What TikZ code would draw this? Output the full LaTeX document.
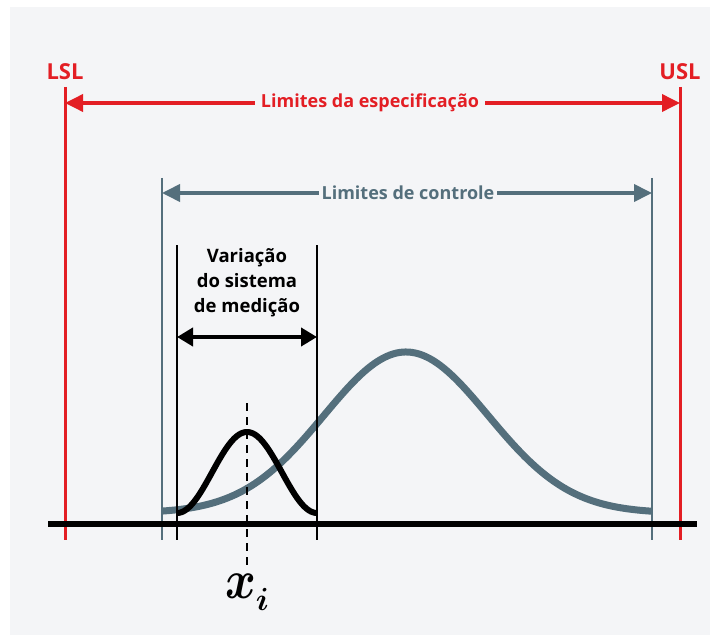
\documentclass[tikz,border=0pt]{standalone}
\usepackage{fontspec}
\setmainfont{Open Sans}
\usetikzlibrary{arrows.meta}
\font\xbig=cmmib10 at 55pt
\font\xsmall=cmmib10 at 32pt
\definecolor{panel}{HTML}{F4F5F7}
\definecolor{specred}{HTML}{E31E24}
\definecolor{slate}{HTML}{546F7C}
\tikzset{
  lbl/.style={font=\bfseries\fontsize{18}{22}\selectfont, inner sep=2pt},
  biglbl/.style={font=\bfseries\fontsize{22}{26}\selectfont, inner sep=2pt},
  redline/.style={draw=specred, line width=3pt},
  slateline/.style={draw=slate, line width=2.8pt},
  blackline/.style={draw=black, line width=2.4pt},
  redarrow/.style={draw=specred, line width=3.6pt, -{Triangle[length=18pt,width=17pt]}},
  slatearrow/.style={draw=slate, line width=3.8pt, -{Triangle[length=18pt,width=17pt]}},
  blackarrow/.style={draw=black, line width=4.2pt, {Triangle[length=16pt,width=18pt]}-{Triangle[length=16pt,width=18pt]}},
}
\begin{document}
\begin{tikzpicture}[x=1pt,y=-1pt]
\useasboundingbox (0,0) rectangle (711,636);
\fill[white] (0,0) rectangle (711,636);
\fill[panel] (10,7) rectangle (710,635);
% baseline
\coordinate (bl) at (48,524);
\coordinate (br) at (697,524);
% spec limits
\coordinate (lslT) at (65,87); \coordinate (lslB) at (65,540);
\coordinate (uslT) at (680,87); \coordinate (uslB) at (680,540);
\draw[redline] (lslT) -- (lslB);
\draw[redline] (uslT) -- (uslB);
\node[biglbl, text=specred] (lsl) at (65,72) {LSL};
\node[biglbl, text=specred] (usl) at (680,72) {USL};
\coordinate (ra) at (65,103); \coordinate (rb) at (680,103);
\coordinate (rm) at (370,103);
\draw[redarrow] (rm) -- (ra);
\draw[redarrow] (rm) -- (rb);
\node[lbl, text=specred, fill=panel, inner xsep=6pt] (spec) at (rm) {Limites da especificação};
% control limits
\coordinate (lclT) at (162,178); \coordinate (lclB) at (162,540);
\coordinate (uclT) at (652,178); \coordinate (uclB) at (652,540);
\draw[slateline] (lclT) -- (lclB);
\draw[slateline] (uclT) -- (uclB);
\coordinate (ga) at (162,193); \coordinate (gb) at (652,193);
\coordinate (gm) at (408,193);
\draw[slatearrow] (gm) -- (ga);
\draw[slatearrow] (gm) -- (gb);
\node[lbl, text=slate, fill=panel, inner xsep=3pt] (ctrl) at (gm) {Limites de controle};
% process curve
\draw[slate, line width=7pt] plot[domain=162:652, samples=160] (\x, {513-161*exp(-((\x-406)/82)^2/2)});
% measurement system
\coordinate (mlT) at (177,245); \coordinate (mlB) at (177,540);
\coordinate (mrT) at (317,245); \coordinate (mrB) at (317,540);
\draw[blackline] (mlT) -- (mlB);
\draw[blackline] (mrT) -- (mrB);
\coordinate (ma) at (177,337); \coordinate (mb) at (317,337);
\draw[blackarrow] (ma) -- (mb);
\node[inner sep=0pt, align=center, font=\bfseries\fontsize{18.5}{25}\selectfont] (var) at (247,283) {Variação\\do sistema\\de medição};
\draw[black, line width=6pt] plot[domain=177:317, samples=100] (\x, {513-40.5*(1+cos(180*(\x-247)/70))});
% dashed center
\coordinate (dT) at (247,403); \coordinate (dB) at (247,570);
\draw[black, line width=2.4pt, dash pattern=on 8pt off 6pt] (dT) -- (dB);
% baseline drawn on top
\draw[black, line width=6pt] (bl) -- (br);
% x_i
\node[inner sep=0pt] (xi) at (247,592) {\scalebox{0.85}[1]{\xbig x}\raisebox{-12pt}{\xsmall i}};
\end{tikzpicture}
\end{document}
